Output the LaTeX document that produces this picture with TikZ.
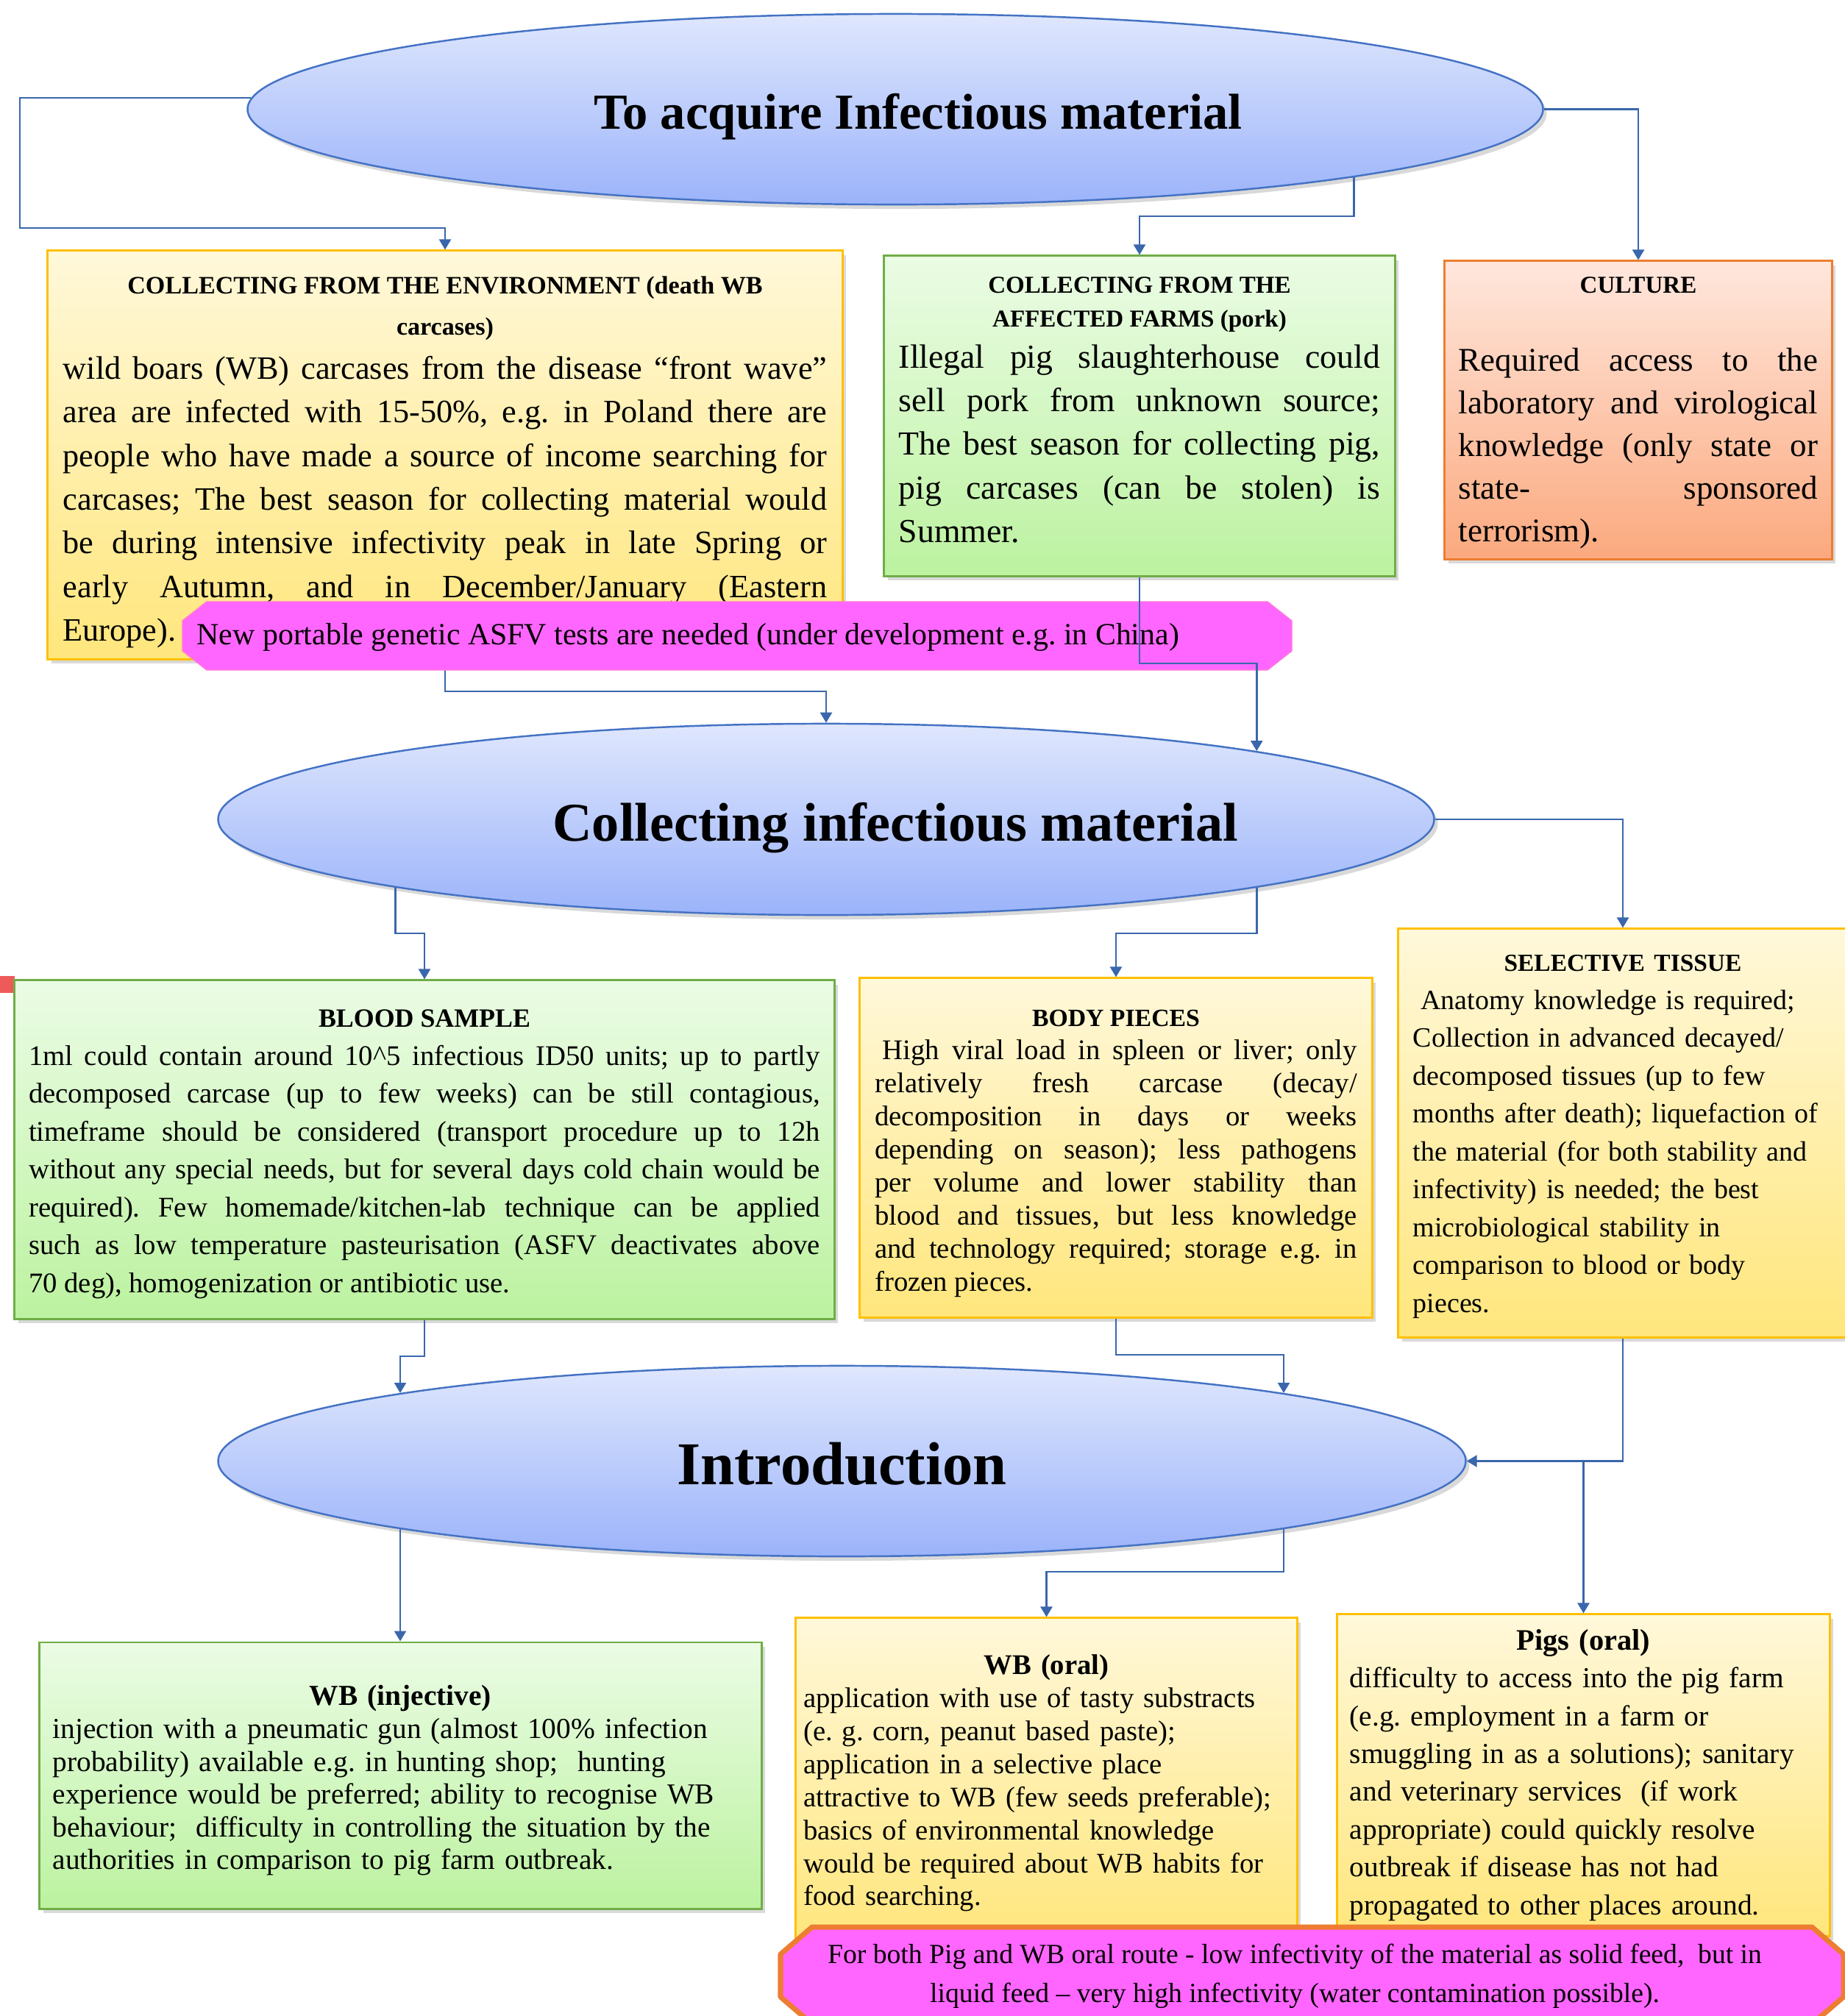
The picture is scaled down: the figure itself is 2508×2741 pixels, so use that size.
\documentclass[tikz,border=0pt]{standalone}
\usepackage{fontspec}
\setmainfont{Liberation Serif}
\usepackage{xcolor}
\usetikzlibrary{arrows.meta,positioning,shapes.geometric,shadows,calc}
\pgfdeclarelayer{bg}
\pgfsetlayers{bg,main}

\definecolor{lineblue}{HTML}{3A67AC}
\definecolor{ellborder}{HTML}{4472C4}
\definecolor{elltop}{HTML}{DFE7FD}
\definecolor{ellbot}{HTML}{9BB3FA}
\definecolor{yeltop}{HTML}{FFF8DA}
\definecolor{yelbot}{HTML}{FFE67C}
\definecolor{yelborder}{HTML}{FFC000}
\definecolor{grntop}{HTML}{EBFCE5}
\definecolor{grnbot}{HTML}{BCF2A0}
\definecolor{grnborder}{HTML}{70AD47}
\definecolor{orgtop}{HTML}{FFE7DD}
\definecolor{orgbot}{HTML}{FBA97E}
\definecolor{orgborder}{HTML}{ED7D31}
\definecolor{magfill}{HTML}{FF66FF}
\definecolor{magborder}{HTML}{FF7AD6}
\definecolor{redmark}{HTML}{EE5A5A}

\newcommand{\boxfont}[2]{\fontsize{#1}{#2}\selectfont}

\begin{document}
\tolerance=10000 \hyphenpenalty=10000 \exhyphenpenalty=10000 \frenchspacing
\begin{tikzpicture}[x = 0.01cm, y = -0.01cm,
  arr/.style={-{Triangle[length=1.4mm,width=1.6mm]}, line width=0.7pt, lineblue},
  boxshadow/.style={drop shadow={shadow xshift=0.5mm, shadow yshift=-0.6mm, opacity=0.3}},
  bubble/.style={ellipse, draw=ellborder, line width=0.7pt, top color=elltop, bottom color=ellbot, inner sep=0pt, boxshadow},
  ybox/.style={draw=yelborder, line width=0.8pt, top color=yeltop, bottom color=yelbot, inner sep=0pt, boxshadow},
  gbox/.style={draw=grnborder, line width=0.8pt, top color=grntop, bottom color=grnbot, inner sep=0pt, boxshadow},
  obox/.style={draw=orgborder, line width=0.8pt, top color=orgtop, bottom color=orgbot, inner sep=0pt, boxshadow},
  notetext/.style={inner sep=0pt}]
\useasboundingbox (0,0) rectangle (2508,2741);
\fill[redmark] (0,1327) rectangle (20,1350);

% the three ovals
\node[bubble, minimum width=17.6cm, minimum height=2.59cm, font=\boxfont{19.5}{22}\bfseries] (acquire) at (1217,148.5) {\raisebox{-0.265cm}[0pt][0pt]{\hspace*{0.62cm}To acquire Infectious material}};
\node[bubble, minimum width=16.52cm, minimum height=2.6cm, font=\boxfont{21.1}{24}\bfseries] (collect) at (1123,1114) {\raisebox{-0.29cm}[0pt][0pt]{\hspace*{1.88cm}Collecting infectious material}};
\node[bubble, minimum width=16.95cm, minimum height=2.59cm, font=\boxfont{23.5}{26}\bfseries] (intro) at (1144.5,1986.5) {\raisebox{-0.315cm}[0pt][0pt]{Introduction}};

% sources
\node[ybox, minimum width=10.8cm, minimum height=5.55cm, text width=10.38cm, align=justify, font=\boxfont{12.6}{16.9}] (env) at (605,618.5) {{\centering\boxfont{9.7}{15.9}\bfseries\rule{0pt}{0.44cm}COLLECTING FROM THE ENVIRONMENT (death WB\\ carcases)\par}
wild boars (WB) carcases from the disease “front wave”\linebreak
area are infected with 15-50\%, e.g. in Poland there are\linebreak
people who have made a source of income searching for\linebreak
carcases; The best season for collecting material would\linebreak
be during intensive infectivity peak in late Spring or\linebreak
early Autumn, and in December/January (Eastern\linebreak
Europe).};
\node[gbox, minimum width=6.94cm, minimum height=4.35cm, text width=6.54cm, align=justify, font=\boxfont{13}{16.9}] (farms) at (1549,565.5) {{\centering\boxfont{9.4}{13.1}\bfseries COLLECTING FROM THE\\ AFFECTED FARMS (pork)\par}\vspace{-0.035cm}
Illegal pig slaughterhouse could\linebreak
sell pork from unknown source;\linebreak
The best season for collecting pig,\linebreak
pig carcases (can be stolen) is\linebreak
Summer.\rule[-0.17cm]{0pt}{0.17cm}};
\node[obox, minimum width=5.26cm, minimum height=4.05cm, text width=4.88cm, align=justify, font=\boxfont{12.8}{16.5}] (culture) at (2227,557.5) {{\centering\boxfont{9.4}{13}\bfseries\rule{0pt}{0.29cm}CULTURE\par}\vspace{4.8mm}
Required access to the\linebreak
laboratory and virological\linebreak
knowledge (only state or\linebreak
state- sponsored\linebreak
terrorism).};

% material
\node[gbox, minimum width=11.14cm, minimum height=4.6cm, text width=10.75cm, align=justify, font=\boxfont{11}{14.65}] (blood) at (577,1563) {{\centering\boxfont{10.2}{14}\bfseries\rule{0pt}{0.36cm}BLOOD SAMPLE\par}
1ml could contain around 10\textasciicircum 5 infectious ID50 units; up to partly\linebreak
decomposed carcase (up to few weeks) can be still contagious,\linebreak
timeframe should be considered (transport procedure up to 12h\linebreak
without any special needs, but for several days cold chain would be\linebreak
required). Few homemade/kitchen-lab technique can be applied\linebreak
such as low temperature pasteurisation (ASFV deactivates above\linebreak
70 deg), homogenization or antibiotic use.};
\node[ybox, minimum width=6.96cm, minimum height=4.61cm, text width=6.55cm, align=justify, font=\boxfont{11}{12.8}] (body) at (1517,1560.5) {{\centering\boxfont{9.6}{13}\bfseries\rule{0pt}{0.385cm}BODY PIECES\par}
\hspace*{3pt}High viral load in spleen or liver; only\linebreak
relatively fresh carcase (decay/\linebreak
decomposition in days or weeks\linebreak
depending on season); less pathogens\linebreak
per volume and lower stability than\linebreak
blood and tissues, but less knowledge\linebreak
and technology required; storage e.g. in\linebreak
frozen pieces.};
\node[ybox, minimum width=6.1cm, minimum height=5.55cm, text width=5.7cm, align=left, font=\boxfont{10.8}{14.65}] (tissue) at (2206,1540.5) {{\centering\boxfont{9.5}{13}\bfseries\rule{0pt}{0.32cm}SELECTIVE TISSUE\par}
\hspace*{3pt}Anatomy knowledge is required;\\
Collection in advanced decayed/\\
decomposed tissues (up to few\\
months after death); liquefaction of\\
the material (for both stability and\\
infectivity) is needed; the best\\
microbiological stability in\\
comparison to blood or body\\
pieces.};

% routes
\node[gbox, minimum width=9.81cm, minimum height=3.62cm, text width=9.45cm, align=left, font=\boxfont{11.2}{12.66}] (injective) at (544.5,2414) {{\centering\boxfont{11.2}{13}\bfseries\rule{0pt}{0.41cm}WB (injective)\par}
injection with a pneumatic gun (almost 100\% infection\\
probability) available e.g. in hunting shop;\ \ hunting\\
experience would be preferred; ability to recognise WB\\
behaviour;\ \ difficulty in controlling the situation by the\\
authorities in comparison to pig farm outbreak.};
\node[ybox, minimum width=6.81cm, minimum height=4.4cm, text width=6.6cm, align=left, font=\boxfont{11}{12.76}] (oral) at (1422.5,2420) {{\centering\boxfont{11}{13}\bfseries\rule{0pt}{0.36cm}WB (oral)\par}
application with use of tasty substracts\\
(e. g. corn, peanut based paste);\\
application in a selective place\\
attractive to WB (few seeds preferable);\\
basics of environmental knowledge\\
would be required about WB habits for\\
food searching.};
\node[ybox, minimum width=6.69cm, minimum height=4.37cm, text width=6.35cm, align=left, font=\boxfont{11.2}{14.6}] (pigs) at (2152.5,2413.5) {{\centering\boxfont{11.5}{14}\bfseries Pigs (oral)\par}
difficulty to access into the pig farm\\
(e.g. employment in a farm or\\
smuggling in as a solutions); sanitary\\
and veterinary services\ \ (if work\\
appropriate) could quickly resolve\\
outbreak if disease has not had\\
propagated to other places around.};

% arrows
\draw[arr] (acquire.179) -| (27,310) -| (env.north);
\draw[arr] (acquire.south east) |- (1549,294) -- (farms.north);
\draw[arr] (acquire.east) -| (culture.north);
\draw[arr] (env.south) |- (1123,940) -- (collect.north);

% tests note
\draw[draw=magborder, fill=magfill, line width=0.4pt] (281,818) -- (1723,818) -- (1756,844) -- (1756,885) -- (1723,911) -- (281,911) -- (248,885) -- (248,844) -- cycle;
\node[notetext, anchor=west, font=\boxfont{11.9}{14}] (tests) at (267,866) {New portable genetic ASFV tests are needed (under development e.g. in China)};

\draw[arr] (farms.south) -- (1549,902) -| (collect.north east);
\draw[arr] (collect.south west) |- (577,1269) -- (blood.north);
\draw[arr] (collect.south east) |- (1517,1269) -- (body.north);
\draw[arr] (collect.east) -| (tissue.north);

\draw[arr] (blood.south) -- (577,1844) -| (intro.north west);
\draw[arr] (body.south) -- (1517,1842) -| (intro.north east);
\draw[arr] (tissue.south) |- (intro.east);
\draw[arr] (pigs.north |- intro.east) -- (pigs.north);
\draw[arr] (intro.south west) -- (intro.south west |- injective.north);
\draw[arr] (intro.south east) |- (1422.5,2137) -- (oral.north);

% feed note
\draw[draw=orgborder, fill=magfill, line width=2pt, line join=round] (1104,2620) -- (2463,2620) -- (2506,2657) -- (2506,2715) -- (2463,2752) -- (1104,2752) -- (1061,2715) -- (1061,2657) -- cycle;
\node[notetext, align=center, font=\boxfont{10.7}{15}] (feed) at (1760,2687) {For both Pig and WB oral route - low infectivity of the material as solid feed,\ \ but in\\ liquid feed – very high infectivity (water contamination possible).};
\end{tikzpicture}
\end{document}
